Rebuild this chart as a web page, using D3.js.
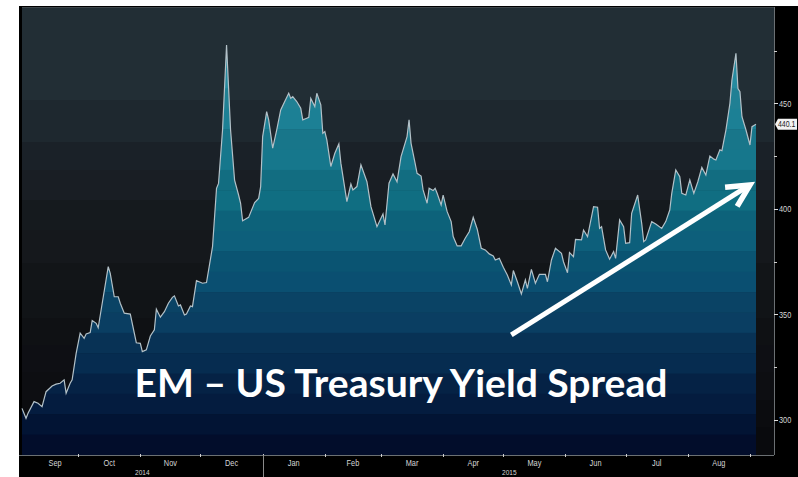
<!DOCTYPE html>
<html><head><meta charset="utf-8">
<script src="https://cdn.jsdelivr.net/npm/d3@7"></script>
<style>body{margin:0;background:#fff;overflow:hidden} svg{display:block}</style>
</head><body><svg id="c" width="798" height="477"></svg>
<script>
// ---------------- DATA ----------------
const dates = [
"2014-09-03","2014-09-05","2014-09-06","2014-09-09","2014-09-11","2014-09-13","2014-09-15","2014-09-18","2014-09-20","2014-09-22",
"2014-09-24","2014-09-25","2014-09-27","2014-09-28","2014-09-30","2014-10-02","2014-10-04","2014-10-05","2014-10-07","2014-10-08",
"2014-10-10","2014-10-11","2014-10-13","2014-10-16","2014-10-17","2014-10-19","2014-10-21","2014-10-22","2014-10-24","2014-10-27",
"2014-10-30","2014-11-01","2014-11-02","2014-11-04","2014-11-06","2014-11-08","2014-11-09","2014-11-11","2014-11-13","2014-11-15",
"2014-11-17","2014-11-18","2014-11-20","2014-11-21","2014-11-23","2014-11-24","2014-11-26","2014-11-27","2014-11-29","2014-12-02",
"2014-12-04","2014-12-07","2014-12-09","2014-12-10","2014-12-12","2014-12-14","2014-12-16","2014-12-18","2014-12-20","2014-12-21",
"2014-12-22","2014-12-25","2014-12-28","2014-12-30","2014-12-31","2015-01-01","2015-01-03","2015-01-04","2015-01-06","2015-01-08",
"2015-01-10","2015-01-12","2015-01-14","2015-01-15","2015-01-16","2015-01-18","2015-01-20","2015-01-21","2015-01-23","2015-01-24",
"2015-01-25","2015-01-27","2015-01-28","2015-01-30","2015-01-31","2015-02-01","2015-02-02","2015-02-04","2015-02-06","2015-02-08",
"2015-02-09","2015-02-12","2015-02-14","2015-02-15","2015-02-17","2015-02-19","2015-02-22","2015-02-24","2015-02-27","2015-03-02",
"2015-03-03","2015-03-05","2015-03-07","2015-03-09","2015-03-11","2015-03-14","2015-03-15","2015-03-16","2015-03-18","2015-03-19",
"2015-03-21","2015-03-22","2015-03-24","2015-03-25","2015-03-27","2015-03-28","2015-03-29","2015-03-31","2015-04-01","2015-04-03",
"2015-04-05","2015-04-06","2015-04-08","2015-04-10","2015-04-12","2015-04-14","2015-04-16","2015-04-18","2015-04-20","2015-04-22",
"2015-04-24","2015-04-26","2015-04-27","2015-04-29","2015-05-01","2015-05-03","2015-05-05","2015-05-06","2015-05-08","2015-05-10",
"2015-05-12","2015-05-13","2015-05-15","2015-05-17","2015-05-19","2015-05-22","2015-05-23","2015-05-25","2015-05-27","2015-05-30",
"2015-05-31","2015-06-02","2015-06-03","2015-06-05","2015-06-06","2015-06-09","2015-06-10","2015-06-12","2015-06-15","2015-06-17",
"2015-06-18","2015-06-19","2015-06-21","2015-06-23","2015-06-25","2015-06-26","2015-06-28","2015-06-30","2015-07-01","2015-07-03",
"2015-07-04","2015-07-07","2015-07-09","2015-07-10","2015-07-11","2015-07-14","2015-07-16","2015-07-19","2015-07-21","2015-07-23",
"2015-07-24","2015-07-26","2015-07-28","2015-07-29","2015-07-31","2015-08-02","2015-08-04","2015-08-06","2015-08-08","2015-08-10",
"2015-08-12","2015-08-14","2015-08-15","2015-08-17","2015-08-18","2015-08-20","2015-08-22","2015-08-23","2015-08-25","2015-08-26",
"2015-08-27","2015-08-28","2015-08-30","2015-09-01","2015-09-02","2015-09-04"
];
const values = [
305.5,300.8,303.2,308.7,307.9,306.3,313.4,316.1,317.0,317.4,
319.0,312.7,317.4,319.0,331.6,341.1,338.7,340.8,341.4,347.1,
345.8,343.7,355.3,372.7,369.5,358.4,358.4,355.3,350.6,350.2,
336.6,336.3,332.4,333.2,339.8,342.7,352.5,348.7,351.3,355.3,
358.1,358.8,354.0,354.5,349.8,350.2,354.0,353.7,366.0,364.8,
365.1,382.1,409.8,412.1,437.4,477.7,437.4,413.7,406.6,402.7,
394.4,396.0,403.0,405.0,410.6,434.3,446.1,442.2,428.8,437.4,
446.9,450.9,454.8,452.4,453.2,450.9,447.7,442.2,443.0,443.4,
452.4,448.5,454.8,449.3,435.9,436.7,432.7,420.1,426.4,430.8,
421.7,403.5,411.8,409.0,410.6,420.9,412.9,401.1,391.6,397.6,
392.4,412.2,416.6,412.9,424.8,434.3,442.2,431.1,421.7,416.9,
415.6,409.0,402.7,409.8,408.7,409.8,407.4,401.9,406.6,398.7,
394.0,386.9,382.5,382.5,386.1,389.2,396.0,390.4,381.4,380.6,
378.7,377.7,375.8,376.6,372.4,368.7,364.0,370.8,365.5,359.7,
366.4,362.4,371.4,364.8,369.0,369.0,365.5,375.8,381.4,379.0,
375.0,369.8,379.3,377.4,385.6,385.3,390.0,386.9,401.1,400.8,
390.8,391.6,380.6,376.2,379.8,376.6,394.8,391.6,383.7,384.0,
397.9,406.6,393.2,384.5,385.3,394.0,392.9,390.8,394.0,399.5,
407.4,418.5,415.3,407.4,406.6,413.7,407.4,412.9,419.7,416.1,
425.1,423.6,423.2,428.0,427.6,437.4,450.1,461.1,473.8,457.1,
455.6,443.7,437.4,430.3,439.0,440.1
];
const yTicks = [300, 350, 400, 450];
const yMinorTicks = [325, 375, 425, 475];
const monthLabels = ["Sep","Oct","Nov","Dec","Jan","Feb","Mar","Apr","May","Jun","Jul","Aug"];
const yearLabels = ["2014","2015"];
const titleText = "EM \u2013 US Treasury Yield Spread";
const arrowDates = ["2015-05-05","2015-09-01"];
const arrowValues = [340.3, 411.4];

// ---------------- SETUP ----------------
const svg = d3.select("#c");
const P = {l:22, r:774, t:7, b:455};
const parse = d3.timeParse("%Y-%m-%d");
const data = dates.map((d,i)=>({date:parse(d), value:values[i]}));
const x = d3.scaleTime().domain(d3.extent(data,d=>d.date)).range([22,756]);
const y = d3.scaleLinear().domain([283.4, 495.7]).range([P.b, P.t]);
const axisFont = "'Liberation Sans Narrow','Arial Narrow','Liberation Sans',Arial,sans-serif";

// condensed text helper
function narrow(sel, cx, cy, anchor, size, txt, fill){
  const g = sel.append("g").attr("transform",`translate(${cx},${cy}) scale(0.82,1)`);
  return g.append("text").attr("x",0).attr("y",0).attr("dy","0.35em").attr("text-anchor",anchor)
    .attr("fill",fill).attr("font-family",axisFont).attr("font-size",size).text(txt);
}

// black frame
svg.append("rect").attr("x",19).attr("y",6).attr("width",779).attr("height",471).attr("fill","#000");

// background bands
const bgColor = d3.scaleLinear()
  .domain([7,100,150,200,260,320,380,455])
  .range(["#243239","#1f2a31","#1b2229","#161b20","#131619","#101215","#0d0e12","#08090c"]);
const bgEdges = [7,100,142,170,200,230,263,290,318,345,372,400,427,455];
for (let i=0;i<bgEdges.length-1;i++){
  const y0=bgEdges[i], y1=bgEdges[i+1];
  svg.append("rect").attr("x",P.l).attr("y",y0).attr("width",P.r-P.l).attr("height",y1-y0)
    .attr("fill", d3.color(bgColor((y0+y1)/2)).brighter(i%2?0.08:0));
}

// area clip + banded fill
const area = d3.area().x(d=>x(d.date)).y0(P.b).y1(d=>y(d.value));
const line = d3.line().x(d=>x(d.date)).y(d=>y(d.value));
svg.append("clipPath").attr("id","ac").append("path").attr("d",area(data));
const fillColor = d3.scaleLinear()
  .domain([7,52,130,200,260,320,380,430,455])
  .range(["#2f97aa","#2a8ca0","#19788c","#0f697d","#0a5573","#0a3c5f","#052346","#021232","#020823"]);
const g = svg.append("g").attr("clip-path","url(#ac)");
const nb = 22, bh = (P.b-P.t)/nb;
for (let i=0;i<nb;i++){
  const y0 = P.t + i*bh;
  g.append("rect").attr("x",P.l).attr("y",y0).attr("width",P.r-P.l).attr("height",bh+0.5)
    .attr("fill", d3.color(fillColor(y0+bh/2)).brighter(i%2?0.12:0));
}
svg.append("path").attr("d",line(data)).attr("fill","none").attr("stroke","#b3c1c8").attr("stroke-width",1.2);

// top border
svg.append("line").attr("x1",P.l).attr("x2",P.r).attr("y1",P.t+0.5).attr("y2",P.t+0.5).attr("stroke","#3d4549");

// right axis
svg.append("line").attr("x1",P.r+0.5).attr("x2",P.r+0.5).attr("y1",P.t).attr("y2",P.b).attr("stroke","#6b7073");
yMinorTicks.forEach(v=>{
  svg.append("line").attr("x1",P.r).attr("x2",P.r+3).attr("y1",Math.round(y(v))+0.5).attr("y2",Math.round(y(v))+0.5).attr("stroke","#cfcfcf");
});
yTicks.forEach(v=>{
  svg.append("line").attr("x1",P.r).attr("x2",P.r+4).attr("y1",Math.round(y(v))+0.5).attr("y2",Math.round(y(v))+0.5).attr("stroke","#e0e0e0");
  narrow(svg, P.r+5, y(v), "start", 9, v, "#d6d6d6");
});

// last value label
const last = data[data.length-1];
const ly = y(last.value);
svg.append("path").attr("d",`M${P.r+1},${ly} L${P.r+4},${ly-5.5} L797,${ly-5.5} L797,${ly+5.5} L${P.r+4},${ly+5.5} Z`)
  .attr("fill","#f2f2f2");
narrow(svg, P.r+4, ly, "start", 8.5, last.value.toFixed(1), "#222");

// bottom axis
svg.append("line").attr("x1",19).attr("x2",P.r).attr("y1",P.b+0.5).attr("y2",P.b+0.5).attr("stroke","#6b7073");
const d0 = x.domain()[0], d1 = x.domain()[1];
const monthStarts = d3.timeMonth.range(d3.timeMonth.floor(d0), d3.timeMonth.offset(d3.timeMonth.floor(d1),1));
monthStarts.forEach(m=>{
  const xm = x(m);
  if (xm>P.l && xm<P.r) svg.append("line").attr("x1",Math.round(xm)+0.5).attr("x2",Math.round(xm)+0.5)
    .attr("y1",P.b-1).attr("y2",P.b+2).attr("stroke","#d0d0d0");
});
monthStarts.slice(0,12).forEach((m,i)=>{
  const a = Math.max(x(m), P.l+10), b = x(d3.timeMonth.offset(m,1));
  narrow(svg, (a+b)/2, 462.5, "middle", 9, monthLabels[i], "#d6d6d6");
});
const jan = parse("2015-01-01");
svg.append("line").attr("x1",Math.round(x(jan))+0.5).attr("x2",Math.round(x(jan))+0.5)
  .attr("y1",P.b).attr("y2",477).attr("stroke","#8a8a8a");
const yearSpans = [[P.l, x(jan)], [x(jan), x(d1)]];
yearLabels.forEach((t,i)=>{
  narrow(svg, (yearSpans[i][0]+yearSpans[i][1])/2, 472, "middle", 8, t, "#d6d6d6");
});

// arrow annotation
const a0 = [x(parse(arrowDates[0])), y(arrowValues[0])];
const a1 = [x(parse(arrowDates[1])), y(arrowValues[1])];
const ang = Math.atan2(a1[1]-a0[1], a1[0]-a0[0]);
const hl = 25, ha = 27*Math.PI/180;
svg.append("line").attr("x1",a0[0]).attr("y1",a0[1]).attr("x2",a1[0]-3*Math.cos(ang)).attr("y2",a1[1]-3*Math.sin(ang))
  .attr("stroke","#fff").attr("stroke-width",5);
const h1 = [a1[0]-hl*Math.cos(ang-ha), a1[1]-hl*Math.sin(ang-ha)];
const h2 = [a1[0]-hl*Math.cos(ang+ha), a1[1]-hl*Math.sin(ang+ha)];
svg.append("path").attr("d",`M${h1[0]},${h1[1]} L${a1[0]},${a1[1]} L${h2[0]},${h2[1]}`)
  .attr("fill","none").attr("stroke","#fff").attr("stroke-width",5.5).attr("stroke-linejoin","miter");

// title
const t = svg.append("text").attr("x",401).attr("y",397).attr("text-anchor","middle")
  .attr("fill","#fff").attr("font-family","Lato,'Open Sans',sans-serif").attr("font-weight",700)
  .attr("font-size",36).text(titleText);
const w = t.node().getComputedTextLength();
t.attr("font-size", 36*533/w);
</script></body></html>
